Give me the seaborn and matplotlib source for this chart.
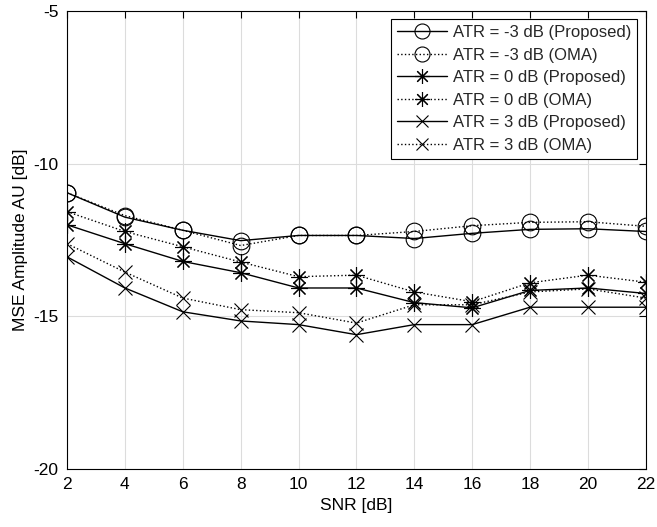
import matplotlib
matplotlib.use("Agg")
import matplotlib.pyplot as plt
import seaborn as sns
import pandas as pd

snr = [2, 4, 6, 8, 10, 12, 14, 16, 18, 20, 22]
atr_m3_proposed = [-10.95, -11.75, -12.18, -12.52, -12.35, -12.35, -12.45, -12.28, -12.15, -12.13, -12.22]
atr_m3_oma = [-10.95, -11.70, -12.18, -12.68, -12.35, -12.35, -12.22, -12.03, -11.92, -11.90, -12.05]
atr_0_proposed = [-12.00, -12.62, -13.20, -13.57, -14.07, -14.07, -14.55, -14.72, -14.15, -14.07, -14.25]
atr_0_oma = [-11.57, -12.22, -12.72, -13.22, -13.70, -13.65, -14.20, -14.52, -13.90, -13.65, -13.88]
atr_3_proposed = [-13.05, -14.07, -14.85, -15.15, -15.27, -15.60, -15.27, -15.27, -14.70, -14.70, -14.70]
atr_3_oma = [-12.62, -13.55, -14.40, -14.78, -14.88, -15.22, -14.62, -14.62, -14.20, -14.10, -14.40]

labels = ["ATR = -3 dB (Proposed)", "ATR = -3 dB (OMA)",
          "ATR = 0 dB (Proposed)", "ATR = 0 dB (OMA)",
          "ATR = 3 dB (Proposed)", "ATR = 3 dB (OMA)"]
series = [atr_m3_proposed, atr_m3_oma, atr_0_proposed, atr_0_oma, atr_3_proposed, atr_3_oma]
markers = ["o", "o", (8, 2, 0), (8, 2, 0), "x", "x"]
msizes = [12, 12, 12, 12, 10, 10]
lstyles = ["-", ":", "-", ":", "-", ":"]

sns.set_theme(style="white")
plt.rcParams["font.family"] = ["Liberation Sans", "DejaVu Sans"]
plt.rcParams["axes.unicode_minus"] = False

fig = plt.figure(figsize=(6.57, 5.27), dpi=100)
ax = fig.add_axes([0.102, 0.11, 0.881, 0.869])

for lab, ys, mk, ms, ls in zip(labels, series, markers, msizes, lstyles):
    df = pd.DataFrame({"snr": snr, "mse": ys})
    sns.lineplot(data=df, x="snr", y="mse", ax=ax, color="black", linestyle=ls,
                 linewidth=1.0, marker=mk, markersize=ms, markerfacecolor="none",
                 markeredgecolor="black", markeredgewidth=0.8, label=lab)

ax.set_xlim(2, 22)
ax.set_ylim(-20, -5)
ax.set_xticks(snr)
ax.set_yticks([-20, -15, -10, -5])
ax.grid(True, color="#dcdcdc", linewidth=0.8)
ax.set_axisbelow(True)
for sp in ax.spines.values():
    sp.set_color("black")
    sp.set_linewidth(0.8)
ax.tick_params(direction="in", top=True, right=True, length=5, width=0.8,
               labelsize=12.5, colors="black", pad=6)
ax.set_xlabel("SNR [dB]", fontsize=12.5, color="black")
ax.set_ylabel("MSE Amplitude AU [dB]", fontsize=12.5, color="black")

leg = ax.legend(loc="upper right", fontsize=12, frameon=True, fancybox=False,
                edgecolor="black", framealpha=1, handlelength=3.0,
                borderaxespad=0.5, labelspacing=0.45, handletextpad=0.4,
                borderpad=0.35, markerscale=0.9)
leg.get_frame().set_linewidth(0.8)

fig.savefig("out.png", dpi=100)
